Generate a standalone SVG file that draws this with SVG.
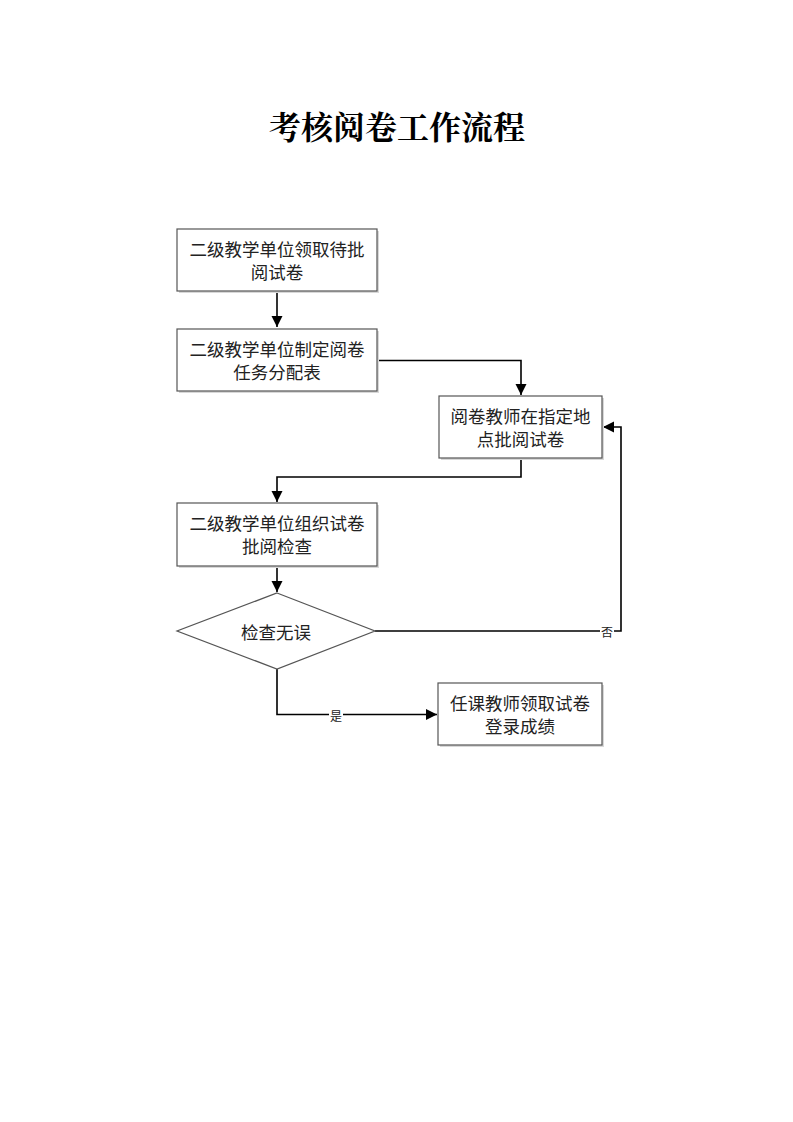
<svg xmlns="http://www.w3.org/2000/svg" width="793" height="1122" viewBox="0 0 793 1122">
<style>
.box{fill:#fff;stroke:#555;stroke-width:1.2}
.sh{fill:#d8d8d8}
.t{font-family:"Noto Sans CJK SC","Liberation Sans",sans-serif;font-size:17.5px;fill:#222;text-anchor:middle;dominant-baseline:central}
.lbl{font-family:"Noto Sans CJK SC","Liberation Sans",sans-serif;font-size:12px;fill:#222;text-anchor:middle;dominant-baseline:central}
.c{fill:none;stroke:#000;stroke-width:1.6}
.title{font-family:"Noto Serif CJK SC","Noto Sans CJK SC",serif;font-size:32px;font-weight:bold;fill:#000;text-anchor:middle;dominant-baseline:central}
</style>
<defs>
<marker id="ah" markerWidth="12" markerHeight="12" refX="11" refY="6" orient="auto" markerUnits="userSpaceOnUse">
<path d="M0,0.5 L11,6 L0,11.5 Z" fill="#000"/>
</marker>
</defs>
<rect width="793" height="1122" fill="#fff"/>
<text class="title" x="397" y="125">考核阅卷工作流程</text>

<g id="connectors">
<path class="c" d="M277,291 V327" marker-end="url(#ah)"/>
<path class="c" d="M377,360.5 H521 V395" marker-end="url(#ah)"/>
<path class="c" d="M521,458 V477 H277 V502" marker-end="url(#ah)"/>
<path class="c" d="M277,566 V592" marker-end="url(#ah)"/>
<path class="c" d="M375,631 H621 V427 H603" marker-end="url(#ah)"/>
<path class="c" d="M277,669 V714.5 H437" marker-end="url(#ah)"/>
<rect x="600" y="624" width="14" height="14" fill="#fff"/>
<text class="lbl" x="607" y="631">否</text>
<rect x="329" y="708" width="14" height="14" fill="#fff"/>
<text class="lbl" x="336" y="715">是</text>
</g>

<g id="n1">
<rect class="sh" x="179" y="231" width="200" height="62"/>
<rect class="box" x="177" y="229" width="200" height="62"/>
<text class="t" x="277" y="248.5">二级教学单位领取待批</text>
<text class="t" x="277" y="271.5">阅试卷</text>
</g>
<g id="n2">
<rect class="sh" x="179" y="331" width="200" height="62"/>
<rect class="box" x="177" y="329" width="200" height="62"/>
<text class="t" x="277" y="348.5">二级教学单位制定阅卷</text>
<text class="t" x="277" y="371.5">任务分配表</text>
</g>
<g id="n3">
<rect class="sh" x="441" y="398" width="163" height="62"/>
<rect class="box" x="439" y="396" width="163" height="62"/>
<text class="t" x="520.5" y="415.5">阅卷教师在指定地</text>
<text class="t" x="520.5" y="438.5">点批阅试卷</text>
</g>
<g id="n4">
<rect class="sh" x="179" y="505" width="200" height="63"/>
<rect class="box" x="177" y="503" width="200" height="63"/>
<text class="t" x="277" y="522.5">二级教学单位组织试卷</text>
<text class="t" x="277" y="545.5">批阅检查</text>
</g>
<g id="n5">
<path class="box" d="M277,593 L375,631 L277,669 L177,631 Z"/>
<text class="t" x="276" y="631">检查无误</text>
</g>
<g id="n6">
<rect class="sh" x="440" y="685" width="164" height="62"/>
<rect class="box" x="438" y="683" width="164" height="62"/>
<text class="t" x="520" y="702.5">任课教师领取试卷</text>
<text class="t" x="520" y="725.5">登录成绩</text>
</g>
</svg>
